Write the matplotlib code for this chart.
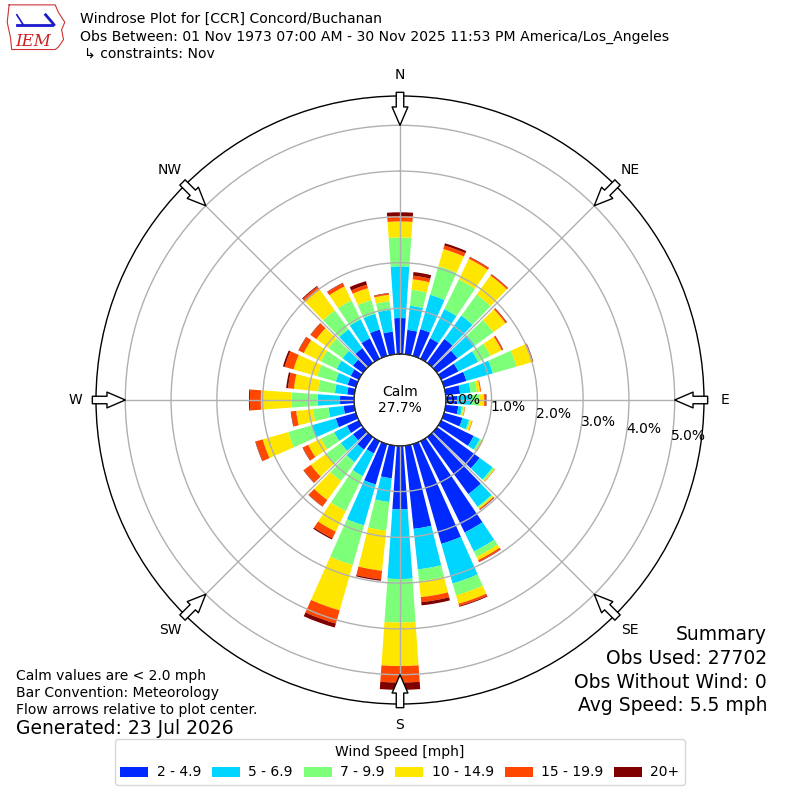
import numpy as np
import matplotlib
matplotlib.use('Agg')
import matplotlib.pyplot as plt
from matplotlib.patches import Patch

# wind direction bins (degrees, meteorological convention)
directions = np.arange(0, 360, 10)
speed_labels = ['2 - 4.9', '5 - 6.9', '7 - 9.9', '10 - 14.9', '15 - 19.9', '20+']

# percent of all obs falling in each direction / speed bin
pct_2_5 = [0.79, 0.54, 0.61, 0.50, 0.65, 0.55, 0.42, 0.51, 0.32, 0.25, 0.28, 0.42,
           0.79, 1.15, 1.54, 2.22, 2.27, 1.83, 1.39, 0.72, 0.92, 0.30, 0.34, 0.27,
           0.29, 0.46, 0.24, 0.31, 0.16, 0.19, 0.20, 0.27, 0.40, 0.50, 0.60, 0.50]
pct_5_7 = [1.13, 0.53, 0.78, 0.71, 0.63, 0.48, 0.48, 0.60, 0.23, 0.30, 0.08, 0.15,
           0.15, 0.35, 0.34, 0.46, 0.90, 0.89, 1.52, 0.52, 0.93, 0.55, 0.34, 0.33,
           0.31, 0.55, 0.33, 0.49, 0.27, 0.27, 0.34, 0.28, 0.51, 0.46, 0.36, 0.48]
pct_7_10 = [0.63, 0.35, 0.65, 0.72, 0.57, 0.49, 0.30, 0.54, 0.14, 0.18, 0.03, 0.03,
            0.04, 0.04, 0.03, 0.13, 0.27, 0.26, 0.95, 0.63, 0.90, 0.85, 0.51, 0.40,
            0.32, 0.53, 0.34, 0.57, 0.37, 0.42, 0.38, 0.38, 0.51, 0.46, 0.31, 0.19]
pct_10_15 = [0.35, 0.23, 0.39, 0.50, 0.51, 0.33, 0.27, 0.36, 0.07, 0.11, 0.03, 0.04,
             0.03, 0.02, 0.03, 0.08, 0.19, 0.35, 0.95, 0.88, 1.03, 0.50, 0.51, 0.41,
             0.31, 0.58, 0.37, 0.67, 0.53, 0.54, 0.42, 0.33, 0.56, 0.34, 0.27, 0.14]
pct_15_20 = [0.12, 0.08, 0.08, 0.04, 0.03, 0.03, 0.03, 0.01, 0.02, 0.04, 0.01, 0.01,
             0.01, 0.01, 0.02, 0.04, 0.05, 0.11, 0.36, 0.19, 0.30, 0.16, 0.17, 0.19,
             0.13, 0.16, 0.11, 0.24, 0.13, 0.20, 0.12, 0.15, 0.08, 0.08, 0.08, 0.03]
pct_20 = [0.08, 0.08, 0.05, 0.01, 0.01, 0.01, 0.01, 0.01, 0.00, 0.01, 0.00, 0.00,
          0.00, 0.00, 0.01, 0.01, 0.02, 0.07, 0.16, 0.03, 0.09, 0.03, 0.01, 0.01,
          0.01, 0.01, 0.01, 0.02, 0.04, 0.04, 0.01, 0.01, 0.02, 0.01, 0.08, 0.01]

calm_pct = 27.7
compass = ['N', 'NE', 'E', 'SE', 'S', 'SW', 'W', 'NW']
rings = [0, 1, 2, 3, 4, 5]

colors = plt.cm.jet(np.linspace(1 / 6., 1, 6))

fig = plt.figure(figsize=(8, 8), dpi=100)
ax = fig.add_axes([0.12, 0.12, 0.76, 0.76], projection='polar')
ax.set_theta_zero_location('N')
ax.set_theta_direction(-1)
ax.set_rorigin(-1.0)
ax.set_ylim(0, 5.64)

theta = np.deg2rad(directions)
width = np.deg2rad(8)
bottom = np.zeros(len(directions))
for vals, c in zip([pct_2_5, pct_5_7, pct_7_10, pct_10_15, pct_15_20, pct_20], colors):
    ax.bar(theta, vals, width=width, bottom=bottom, color=c, linewidth=0, zorder=1)
    bottom = bottom + np.array(vals)

# grid on top of the bars
ax.set_axisbelow(False)
ax.set_xticks(np.deg2rad(np.arange(0, 360, 45)))
ax.set_xticklabels([])
ax.set_yticks(rings)
ax.set_yticklabels(['%.1f%%' % r for r in rings], fontsize=10)
ax.set_rlabel_position(99)
ax.grid(True, color='#b0b0b0', lw=1)
ax.spines['polar'].set_color('black')
ax.spines['polar'].set_linewidth(1)
ax.spines['inner'].set_visible(False)

# calm circle edge
tt = np.linspace(0, 2 * np.pi, 361)
ax.plot(tt, np.zeros_like(tt), color='black', lw=1, zorder=4)
fig.text(0.5, 0.5, 'Calm\n%.1f%%' % calm_pct, ha='center', va='center', fontsize=10)

# compass labels and flow arrows
for i, lab in enumerate(compass):
    th = np.deg2rad(i * 45)
    ax.text(th, 6.1, lab, ha='center', va='center', fontsize=10, clip_on=False)
    ax.annotate('', xy=(th, 5.0), xytext=(th, 5.72), annotation_clip=False,
                arrowprops=dict(arrowstyle='simple,head_length=1.1,head_width=0.95,tail_width=0.45',
                                fc='white', ec='black', lw=1, mutation_scale=12,
                                shrinkA=0, shrinkB=0), zorder=5)

# header
fig.text(0.1, 1 - 19 / 800., 'Windrose Plot for [CCR] Concord/Buchanan', fontsize=10.1, va='center')
fig.text(0.1, 1 - 37 / 800., 'Obs Between: 01 Nov 1973 07:00 AM - 30 Nov 2025 11:53 PM America/Los_Angeles',
         fontsize=10.1, va='center')
fig.text(0.105, 1 - 54 / 800., '\u21b3 constraints: Nov', fontsize=10.1, va='center')

# logo, rough
lax = fig.add_axes([0.005, 0.935, 0.08, 0.062])
lax.set_xlim(0, 1)
lax.set_ylim(0, 1)
lax.axis('off')
lax.plot([0.08, 0.8, 0.85, 0.95, 0.9, 0.93, 0.85, 0.8, 0.12, 0.1, 0.05, 0.08],
         [0.95, 0.95, 0.8, 0.6, 0.45, 0.25, 0.1, 0.05, 0.05, 0.3, 0.6, 0.95],
         color='#cc3333', lw=0.8)
lax.plot([0.2, 0.75], [0.55, 0.55], color='#1a1acc', lw=2)
lax.plot([0.65, 0.75, 0.78], [0.75, 0.6, 0.55], color='#1a1acc', lw=2)
lax.plot([0.2, 0.3], [0.75, 0.55], color='#1a1acc', lw=1.2)
lax.text(0.45, 0.22, 'IEM', color='#cc2222', fontsize=12, style='italic',
         family='DejaVu Serif', ha='center', va='center')

# notes bottom left
fig.text(0.02, 1 - 676 / 800., 'Calm values are < 2.0 mph', fontsize=10, va='center')
fig.text(0.02, 1 - 693 / 800., 'Bar Convention: Meteorology', fontsize=10, va='center')
fig.text(0.02, 1 - 710 / 800., 'Flow arrows relative to plot center.', fontsize=10, va='center')
fig.text(0.02, 1 - 729 / 800., 'Generated: 23 Jul 2026', fontsize=13.5, va='center')

# summary
summary = ['Summary', 'Obs Used: 27702', 'Obs Without Wind: 0', 'Avg Speed: 5.5 mph']
for j, s in enumerate(summary):
    fig.text(767 / 800., 1 - (635 + 23.5 * j) / 800., s, fontsize=13.5, ha='right', va='center')

handles = [Patch(facecolor=c, label=l) for c, l in zip(colors, speed_labels)]
leg = fig.legend(handles=handles, loc='lower center', bbox_to_anchor=(0.5, 0.01), ncol=6,
                 title='Wind Speed [mph]', fontsize=10, title_fontsize=10,
                 handletextpad=0.6, columnspacing=0.8)

fig.savefig('out.png', dpi=100)
